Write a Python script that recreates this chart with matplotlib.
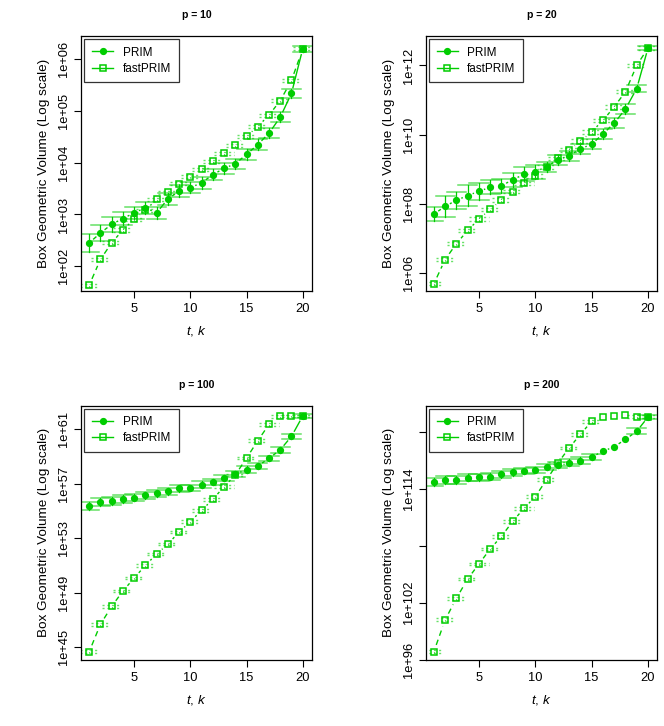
import numpy as np
import matplotlib
matplotlib.use("Agg")
import matplotlib.pyplot as plt
from matplotlib.lines import Line2D

plt.rcParams['font.family'] = ['Liberation Sans', 'DejaVu Sans']
plt.rcParams['mathtext.fontset'] = 'custom'
plt.rcParams['mathtext.it'] = 'Liberation Sans:italic'
plt.rcParams['mathtext.rm'] = 'Liberation Sans'

k = np.arange(1, 21)

titles = ["p = 10", "p = 20", "p = 100", "p = 200"]

# log10 of box geometric volume
prim_p10 = [2.45, 2.64, 2.81, 2.92, 3.03, 3.13, 3.03, 3.30, 3.45, 3.52,
            3.61, 3.77, 3.89, 3.98, 4.16, 4.35, 4.57, 4.88, 5.34, 6.20]
fast_p10 = [1.63, 2.13, 2.45, 2.70, 2.91, 3.08, 3.29, 3.43, 3.59, 3.73,
            3.87, 4.03, 4.18, 4.34, 4.51, 4.70, 4.92, 5.20, 5.59, 6.20]
prim_p20 = [7.70, 7.93, 8.10, 8.24, 8.36, 8.48, 8.52, 8.70, 8.85, 8.93,
            9.07, 9.27, 9.39, 9.59, 9.72, 10.02, 10.33, 10.74, 11.33, 12.50]
fast_p20 = [5.69, 6.39, 6.85, 7.23, 7.56, 7.84, 8.11, 8.35, 8.59, 8.81,
            9.06, 9.31, 9.55, 9.81, 10.08, 10.41, 10.80, 11.24, 12.00, 12.50]
prim_p100 = [55.38, 55.65, 55.72, 55.85, 55.97, 56.14, 56.28, 56.43, 56.65, 56.68,
             56.92, 57.12, 57.41, 57.70, 58.02, 58.29, 58.85, 59.48, 60.46, 61.95]
fast_p100 = [44.68, 46.69, 48.00, 49.13, 50.08, 51.01, 51.84, 52.57, 53.45, 54.21,
             55.04, 55.85, 56.77, 57.63, 58.87, 60.14, 61.34, 61.93, 61.95, 61.95]
prim_p200 = [114.70, 114.91, 114.91, 115.16, 115.19, 115.26, 115.51, 115.72, 115.86, 115.96,
             116.28, 116.49, 116.74, 116.95, 117.33, 117.93, 118.42, 119.19, 120.04, 121.54]
fast_p200 = [96.84, 100.18, 102.46, 104.49, 106.07, 107.65, 108.98, 110.56, 111.93, 113.16,
             114.95, 116.70, 118.28, 119.72, 121.09, 121.54, 121.61, 121.72, 121.58, 121.58]

# error half-widths (log10 units)
prim_err_p10 = [0.18, 0.15, 0.14, 0.13, 0.12, 0.12, 0.12, 0.11, 0.11, 0.11,
                0.11, 0.10, 0.10, 0.10, 0.10, 0.10, 0.10, 0.10, 0.08, 0.05]
fast_err_p10 = [0.03] * 20
prim_err_p20 = [0.20, 0.30, 0.25, 0.30, 0.25, 0.20, 0.20, 0.20, 0.20, 0.20,
                0.15, 0.15, 0.15, 0.15, 0.15, 0.15, 0.15, 0.15, 0.10, 0.05]
fast_err_p20 = [0.05] * 20
prim_err_p100 = [0.30, 0.30, 0.30, 0.30, 0.25, 0.25, 0.25, 0.25, 0.25, 0.25,
                 0.25, 0.25, 0.25, 0.25, 0.25, 0.25, 0.20, 0.20, 0.20, 0.15]
fast_err_p100 = [0.10] * 20
prim_err_p200 = [0.40, 0.40, 0.40, 0.35, 0.35, 0.35, 0.35, 0.35, 0.35, 0.35,
                 0.35, 0.35, 0.35, 0.35, 0.35, 0.0, 0.0, 0.0, 0.30, 0.20]
fast_err_p200 = [0.15] * 15 + [0.0, 0.0, 0.0, 0.15, 0.15]

prim_all = [prim_p10, prim_p20, prim_p100, prim_p200]
fast_all = [fast_p10, fast_p20, fast_p100, fast_p200]
prim_err_all = [prim_err_p10, prim_err_p20, prim_err_p100, prim_err_p200]
fast_err_all = [fast_err_p10, fast_err_p20, fast_err_p100, fast_err_p200]

ylims = [(1.52, 6.45), (5.48, 12.85), (44.10, 62.71), (95.98, 122.74)]
yticks = [[2, 3, 4, 5, 6], [6, 8, 10, 12], [45, 49, 53, 57, 61], [96, 102, 108, 114, 120]]
ytick_labels = [["1e+02", "1e+03", "1e+04", "1e+05", "1e+06"],
                ["1e+06", "1e+08", "1e+10", "1e+12"],
                ["1e+45", "1e+49", "1e+53", "1e+57", "1e+61"],
                ["1e+96", "1e+102", "", "1e+114", ""]]

GREEN = "#00CD00"
W, H = 664, 726
fig = plt.figure(figsize=(W / 100, H / 100), dpi=100)

boxes = [(81.3, 36, 311.7, 291), (426, 36, 657, 291),
         (81.3, 405.7, 311.7, 659.7), (426, 405.7, 657, 659.7)]


def gapped_line(ax, x, y, gap_px, **kw):
    pts = ax.transData.transform(np.column_stack([x, y]))
    inv = ax.transData.inverted()
    for i in range(len(pts) - 1):
        p0, p1 = pts[i], pts[i + 1]
        d = p1 - p0
        L = np.hypot(*d)
        if L <= 2 * gap_px:
            continue
        u = d / L
        a = inv.transform(p0 + u * gap_px)
        b = inv.transform(p1 - u * gap_px)
        ax.plot([a[0], b[0]], [a[1], b[1]], color=GREEN, **kw)


for i in range(4):
    x0, y0, x1, y1 = boxes[i]
    ax = fig.add_axes([x0 / W, 1 - y1 / H, (x1 - x0) / W, (y1 - y0) / H])
    ax.set_xlim(0.3, 20.8)
    ax.set_ylim(*ylims[i])
    prim = np.array(prim_all[i])
    fast = np.array(fast_all[i])
    pe = np.array(prim_err_all[i])
    fe = np.array(fast_err_all[i])
    hw = 0.85
    # error bars PRIM
    for xi, yi, e in zip(k, prim, pe):
        if e > 0:
            ax.plot([xi, xi], [yi - e, yi + e], color=GREEN, lw=0.9, zorder=2)
            ax.plot([xi - hw, xi + hw], [yi + e, yi + e], color=GREEN, lw=1.1, alpha=0.6, zorder=2)
            ax.plot([xi - hw, xi + hw], [yi - e, yi - e], color=GREEN, lw=1.1, alpha=0.6, zorder=2)
    # error bars fastPRIM (dotted)
    for xi, yi, e in zip(k, fast, fe):
        if e > 0:
            ax.plot([xi, xi], [yi - e, yi + e], color=GREEN, lw=0.8, ls=(0, (1, 1.5)), zorder=2)
            ax.plot([xi - hw, xi + hw], [yi + e, yi + e], color=GREEN, lw=1.0, alpha=0.6,
                    ls=(0, (1.5, 2)), zorder=2)
            ax.plot([xi - hw, xi + hw], [yi - e, yi - e], color=GREEN, lw=1.0, alpha=0.6,
                    ls=(0, (1.5, 2)), zorder=2)
    gapped_line(ax, k, prim, 6, lw=1.0, zorder=3)
    gapped_line(ax, k, fast, 7, lw=1.0, ls=(0, (4, 3)), zorder=3)
    ax.plot(k, prim, ls='none', marker='o', ms=4.2, color=GREEN, mec=GREEN, zorder=4)
    ax.plot(k, fast, ls='none', marker='s', ms=5.0, mfc='none', mec=GREEN, mew=1.1, zorder=4)

    ax.set_xticks([5, 10, 15, 20])
    ax.set_yticks(yticks[i])
    ax.set_yticklabels(ytick_labels[i], rotation=90, va='center')
    ax.tick_params(direction='out', length=5, width=0.8, labelsize=9.3, pad=3)
    ax.tick_params(axis='x', pad=4)
    for s in ax.spines.values():
        s.set_linewidth(0.9)
    ax.set_title(titles[i], fontsize=7.5, fontweight='bold', pad=13)
    ax.set_xlabel(r"$t$, $k$", fontsize=9.7, labelpad=6)
    ax.set_ylabel("Box Geometric Volume (Log scale)", fontsize=9.7, labelpad=6)

    handles = [Line2D([], [], color=GREEN, marker='o', ms=4.2, lw=1.0),
               Line2D([], [], color=GREEN, marker='s', ms=5.0, mfc='none', mew=1.1, lw=1.0)]
    leg = ax.legend(handles, ["PRIM", "fastPRIM"], loc='upper left', fontsize=8.5,
                    numpoints=1, handlelength=1.8, borderaxespad=0.25, frameon=True,
                    fancybox=False, edgecolor='black', borderpad=0.65, labelspacing=0.35,
                    handletextpad=0.8)
    leg.get_frame().set_linewidth(0.9)

fig.savefig("out.png", dpi=100)
